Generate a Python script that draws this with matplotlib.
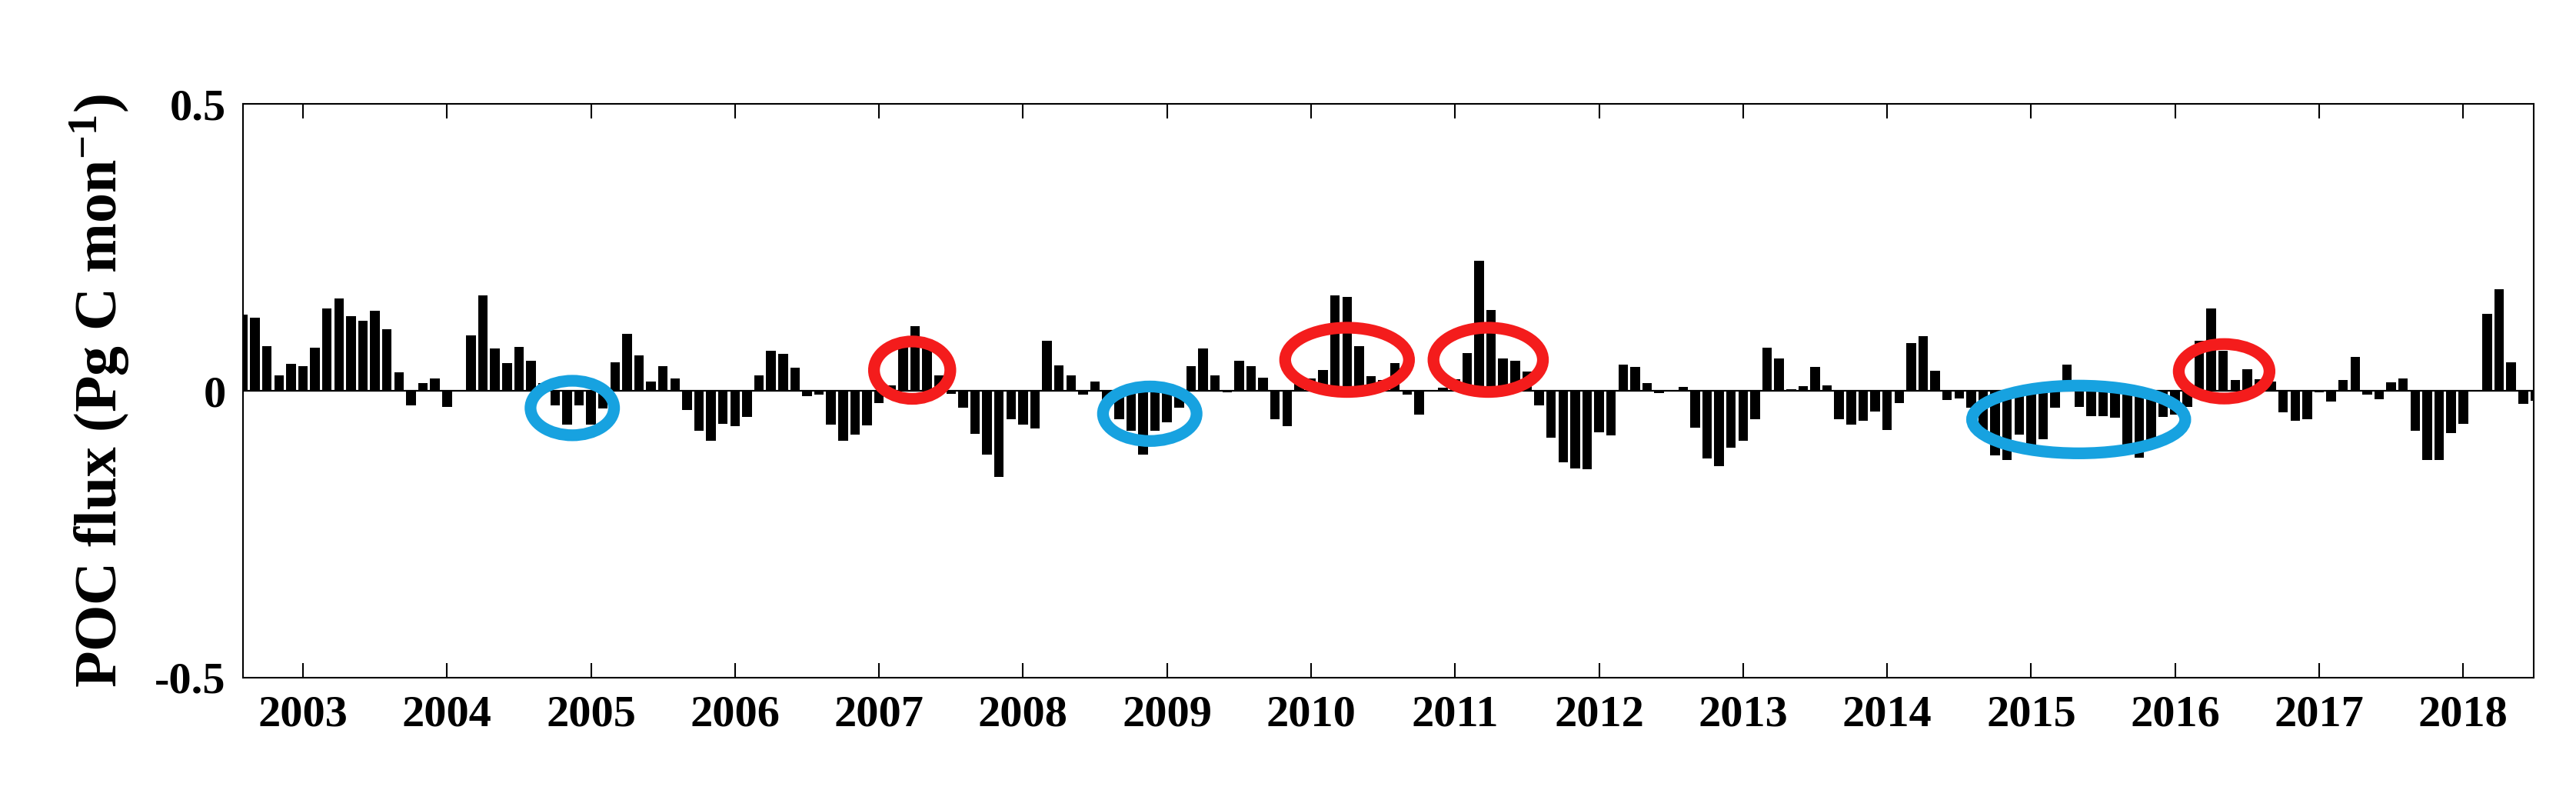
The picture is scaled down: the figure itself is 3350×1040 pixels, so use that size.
import numpy as np
import matplotlib
matplotlib.use("Agg")
import matplotlib.pyplot as plt
from matplotlib.patches import Ellipse

start_year = 2002 + 7/12  # Aug 2002 (first bar)
poc_flux = [
 0.133,0.128,0.078,0.027,0.047,0.043,0.075,0.143,0.161,0.130,0.122,0.139,0.108,0.032,-0.025,0.013,0.022,-0.028,0.0,0.096,0.167,0.074,0.048,0.077,0.053,0.013,-0.026,-0.059,-0.026,-0.059,-0.031,0.050,0.099,0.062,0.016,0.043,0.022,-0.033,-0.070,-0.087,-0.058,-0.061,-0.046,0.027,
 0.070,0.065,0.040,-0.010,-0.006,-0.059,-0.087,-0.076,-0.060,-0.022,0.010,0.080,0.113,0.080,0.027,-0.005,-0.029,-0.075,-0.111,-0.150,-0.050,-0.059,-0.065,0.087,0.044,0.027,-0.006,0.016,-0.020,-0.050,-0.070,-0.111,-0.070,-0.055,-0.030,0.043,0.074,0.027,-0.002,0.053,0.043,0.023,-0.050,-0.062,
 0.024,0.022,0.036,0.166,0.164,0.078,0.026,0.019,0.048,-0.007,-0.041,0.002,0.005,0.020,0.066,0.227,0.141,0.056,0.053,0.033,-0.025,-0.082,-0.124,-0.136,-0.137,-0.072,-0.078,0.045,0.041,0.013,-0.004,0.001,0.007,-0.064,-0.118,-0.132,-0.099,-0.087,-0.049,0.075,0.057,0.003,
 0.008,0.042,0.010,-0.050,-0.059,-0.052,-0.036,-0.068,-0.022,0.083,0.095,0.035,-0.016,-0.013,-0.030,-0.074,-0.113,-0.120,-0.076,-0.096,-0.085,-0.030,0.046,-0.028,-0.044,-0.044,-0.047,-0.100,-0.117,-0.100,-0.046,-0.042,-0.028,0.087,0.144,0.070,0.019,0.037,0.020,0.016,-0.038,-0.052,-0.049,-0.003,-0.019,
 0.019,0.059,-0.007,-0.015,0.015,0.022,-0.070,-0.120,-0.120,-0.074,-0.058,0.0,0.134,0.177,0.050,-0.023,-0.018,
]
year_ticks = list(range(2003, 2019))
year_labels = [str(y) for y in year_ticks]
y_ticks = [-0.5, 0, 0.5]
y_tick_labels = ['-0.5', '0', '0.5']

# annotation ellipses: (center year, center value, width yr, height, colour)
blue = '#17a2e0'
red = '#f41c1c'
ell_x = [2004.87, 2007.23, 2008.88, 2010.25, 2011.23, 2015.33, 2016.34]
ell_y = [-0.030, 0.036, -0.040, 0.054, 0.054, -0.050, 0.034]
ell_w = [0.58, 0.53, 0.65, 0.86, 0.76, 1.48, 0.63]
ell_h = [0.095, 0.100, 0.095, 0.112, 0.112, 0.118, 0.095]
ell_c = [blue, red, blue, red, red, blue, red]

plt.rcParams['font.family'] = ['Liberation Serif', 'DejaVu Serif']
plt.rcParams['font.weight'] = 'bold'
plt.rcParams['mathtext.fontset'] = 'custom'
plt.rcParams['mathtext.rm'] = 'Liberation Serif:bold'
plt.rcParams['mathtext.bf'] = 'Liberation Serif:bold'
plt.rcParams['mathtext.default'] = 'rm'

fig = plt.figure(figsize=(33.5, 10.4), dpi=100)
ax = fig.add_axes([0.0943, 0.153, 0.8893, 0.717])

x = start_year + np.arange(len(poc_flux)) / 12.0
ax.bar(x, poc_flux, width=0.8/12, color='black', edgecolor='none', zorder=2)
ax.axhline(0, color='black', lw=1.6, zorder=3)

for cx, cy, w, h, c in zip(ell_x, ell_y, ell_w, ell_h, ell_c):
    ax.add_patch(Ellipse((cx, cy), w, h, fill=False, edgecolor=c, lw=11, zorder=4))

ax.set_xlim(2002.583, 2018.49)
ax.set_ylim(-0.5, 0.5)
ax.set_xticks(year_ticks)
ax.set_xticklabels(year_labels, fontsize=42, fontweight='bold')
ax.set_yticks(y_ticks)
ax.set_yticklabels(y_tick_labels, fontsize=42, fontweight='bold')
ax.tick_params(axis='x', direction='in', length=14, width=1.5, top=True, pad=16)
ax.tick_params(axis='y', length=0, pad=16)
for s in ax.spines.values():
    s.set_linewidth(1.5)
ax.set_ylabel('POC flux (Pg C mon$^{-1}$)', fontsize=56, fontweight='bold', labelpad=22)

fig.savefig('out.png', dpi=100)
